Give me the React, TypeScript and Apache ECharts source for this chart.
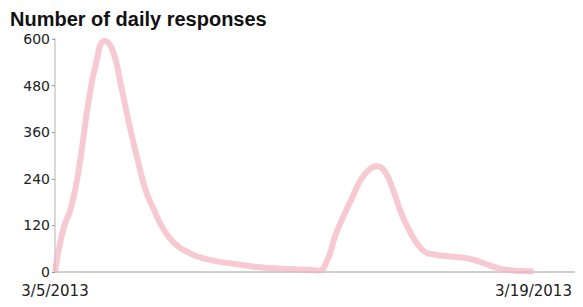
import React, { useEffect, useRef } from "react";
import * as echarts from "echarts";

// 6-hour steps starting 3/5/2013 00:00
const startDay = 5;
const stepHours = 6;
const responses: number[] = [
  0, 110, 170, 280, 430, 540, 595, 570, 480, 380,
  290, 210, 160, 115, 85, 65, 52, 42, 35, 30,
  26, 23, 20, 17, 14, 12, 10, 9, 8, 7,
  6, 5, 4, 30, 95, 145, 190, 235, 262, 272,
  258, 210, 150, 105, 70, 50, 45, 42, 40, 38,
  35, 30, 22, 15, 8, 5, 3, 2, 1,
];
const extraSteps = 6;
const categories: string[] = Array.from(
  { length: responses.length + extraSteps },
  (_, i) => {
    const h = i * stepHours;
    const day = startDay + Math.floor(h / 24);
    return `3/${day}/2013 ${String(h % 24).padStart(2, "0")}h`;
  }
);
const yTicks = [0, 120, 240, 360, 480, 600];
const title = "Number of daily responses";

export default function App() {
  const ref = useRef<HTMLDivElement>(null);
  useEffect(() => {
    if (!ref.current) return;
    const chart = echarts.init(ref.current, undefined, { renderer: "svg" });
    const lastIdx = responses.length - 1;
    chart.setOption({
      animation: false,
      title: {
        text: title,
        left: 2,
        top: 0,
        padding: 0,
        textStyle: {
          fontFamily: "Liberation Sans, Arial, sans-serif",
          fontWeight: "bold",
          fontSize: 20,
          lineHeight: 21,
          color: "#111",
        },
      },
      grid: { left: 47, right: 0, top: 31, bottom: 35 },
      xAxis: {
        type: "category",
        data: categories,
        boundaryGap: false,
        axisLine: { lineStyle: { color: "#d0d0d0", width: 2 } },
        axisTick: { show: false },
        axisLabel: {
          interval: (idx: number) => idx === 0 || idx === lastIdx,
          formatter: (v: string) => v.split(" ")[0],
          fontSize: 15,
          color: "#222",
          margin: 11,
          fontFamily: "DejaVu Sans, sans-serif",
        },
        splitLine: { show: false },
      },
      yAxis: {
        type: "value",
        min: yTicks[0],
        max: yTicks[yTicks.length - 1],
        interval: 120,
        axisLine: { show: true, lineStyle: { color: "#d8d8d8", width: 2 } },
        axisTick: { show: true, length: 3, lineStyle: { color: "#999" } },
        axisLabel: {
          fontSize: 14,
          color: "#222",
          margin: 5,
          fontFamily: "DejaVu Sans, sans-serif",
        },
        splitLine: { show: false },
      },
      series: [
        {
          type: "line",
          data: responses,
          smooth: true,
          showSymbol: false,
          lineStyle: { color: "#f3b3c0", width: 6, opacity: 0.7 },
        },
      ],
    });
    return () => chart.dispose();
  }, []);
  return <div ref={ref} style={{ width: 575, height: 299 }} />;
}
